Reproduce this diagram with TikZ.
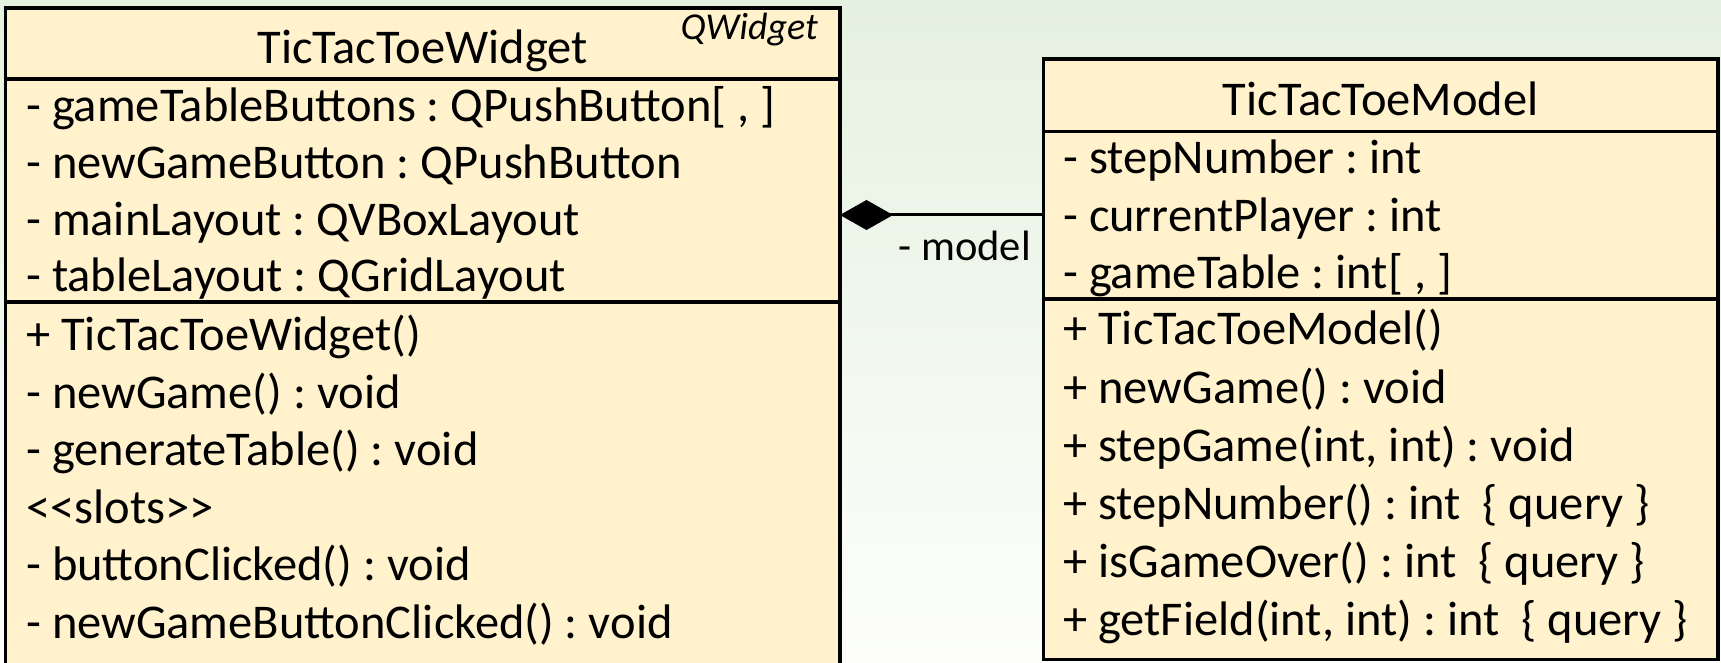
\documentclass[tikz,border=0pt]{standalone}
\usepackage{fontspec}
\setmainfont{Carlito}
\usetikzlibrary{arrows.meta}
\definecolor{classfill}{RGB}{255,242,204}
\definecolor{bgtop}{RGB}{229,241,224}
\definecolor{bgbottom}{RGB}{253,254,252}
\begin{document}
\frenchspacing
\begin{tikzpicture}[x=1pt,y=-1pt,
  classbox/.style={draw=black, line width=3.6pt, fill=classfill, rectangle,
    inner sep=0pt, outer sep=0pt, anchor=north west},
  divider/.style={line width=3.2pt},
  member/.style={anchor=base west, inner sep=0pt, font=\fontsize{48.5}{58}\selectfont},
  classname/.style={anchor=base, inner sep=0pt, font=\fontsize{48.5}{58}\selectfont},
  parentname/.style={anchor=base east, inner sep=0pt, font=\fontsize{38}{45}\selectfont\itshape},
  rolename/.style={anchor=base east, inner sep=0pt, font=\fontsize{42.5}{51}\selectfont},
  composition/.style={line width=3pt, {Diamond[length=53pt,width=30pt,sep=0pt]}-}]

% canvas and page frame
\clip (0,0) rectangle (1721,663);
\fill[top color=bgtop, bottom color=bgbottom] (0,0) rectangle (1721,663);

% ---- TicTacToeWidget class ----
\node[classbox, minimum width=834.5pt, minimum height=720pt] (wbox) at (5.5,8) {};
\draw[divider] ([yshift=-71pt]wbox.north west) -- ([yshift=-71pt]wbox.north east);
\draw[divider] ([yshift=-294pt]wbox.north west) -- ([yshift=-294pt]wbox.north east);
\node[classname] (wname) at (422.75,64) {TicTacToeWidget};
\node[parentname] (wparent) at (818,40) {QWidget};

\node[member] (wa1) at (26,122)   {- gameTableButtons : QPushButton[ , ]};
\node[member] (wa2) at (26,178.5) {- newGameButton : QPushButton};
\node[member] (wa3) at (26,235)   {- mainLayout : QVBoxLayout};
\node[member] (wa4) at (26,291.5) {- tableLayout : QGridLayout};

\node[member] (wm1) at (26,350) {+ TicTacToeWidget()};
\node[member] (wm2) at (26,408) {- newGame() : void};
\node[member] (wm3) at (26,465) {- generateTable() : void};
\node[member] (wm4) at (26,523) {<\kern0pt<slots>\kern0pt>};
\node[member] (wm5) at (26,580) {- buttonClicked() : void};
\node[member] (wm6) at (26,638) {- newGameButtonClicked() : void};

% ---- TicTacToeModel class ----
\node[classbox, minimum width=674.5pt, minimum height=600.5pt] (mbox) at (1043.5,59) {};
\draw[divider] ([yshift=-72.5pt]mbox.north west) -- ([yshift=-72.5pt]mbox.north east);
\draw[divider] ([yshift=-240pt]mbox.north west) -- ([yshift=-240pt]mbox.north east);
\node[classname] (mname) at (1380.75,115.5) {TicTacToeModel};

\node[member] (ma1) at (1063,174) {- stepNumber : int};
\node[member] (ma2) at (1063,231) {- currentPlayer : int};
\node[member] (ma3) at (1063,288) {- gameTable : int[ , ]};

\node[member] (mm1) at (1063,344) {+ TicTacToeModel()};
\node[member] (mm2) at (1063,403) {+ newGame() : void};
\node[member] (mm3) at (1063,461) {+ stepGame(int, int) : void};
\node[member] (mm4) at (1063,519) {+ stepNumber() : int\ \ \{ query \}};
\node[member] (mm5) at (1063,577) {+ isGameOver() : int\ \ \{ query \}};
\node[member] (mm6) at (1063,635) {+ getField(int, int) : int\ \ \{ query \}};

% ---- composition: widget owns the model ----
\coordinate (link) at (0,215);
\draw[composition] (wbox.east |- link) -- (mbox.west |- link);
\node[rolename] (role) at (1031,260) {- model};
\end{tikzpicture}
\end{document}
